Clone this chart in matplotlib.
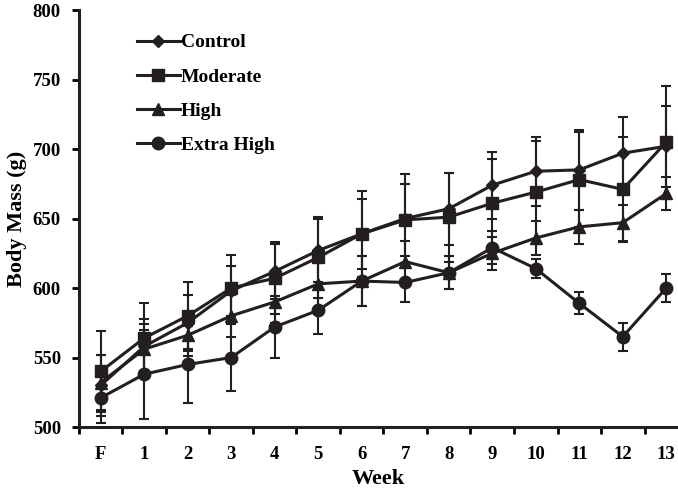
import matplotlib.pyplot as plt
from matplotlib.ticker import FixedLocator

plt.rcParams['font.family'] = 'Liberation Serif'
plt.rcParams['font.weight'] = 'bold'

weeks = ['F', '1', '2', '3', '4', '5', '6', '7', '8', '9', '10', '11', '12', '13']
x = list(range(len(weeks)))

control = [530, 558, 575, 598, 612, 627, 639, 650, 657, 674, 684, 685, 697, 702]
control_err = [22, 20, 20, 18, 20, 23, 25, 32, 26, 24, 25, 29, 26, 29]
moderate = [540, 564, 580, 600, 607, 622, 639, 649, 651, 661, 669, 678, 671, 705]
moderate_err = [29, 25, 24, 24, 26, 29, 31, 26, 32, 32, 37, 34, 38, 40]
high = [532, 556, 566, 580, 590, 603, 605, 619, 611, 625, 636, 644, 647, 668]
high_err = [20, 18, 15, 15, 15, 18, 18, 15, 12, 12, 12, 12, 13, 12]
extra = [521, 538, 545, 550, 572, 584, 605, 604, 611, 629, 614, 589, 565, 600]
extra_err = [18, 32, 28, 24, 22, 17, 18, 14, 12, 12, 7, 8, 10, 10]

fig = plt.figure(figsize=(6.78, 4.91), dpi=100)
ax = fig.add_axes([0.1165, 0.1303, 0.8835, 0.8493])

series = [
    ('Control', control, control_err, 'D', 6),
    ('Moderate', moderate, moderate_err, 's', 8.5),
    ('High', high, high_err, '^', 8),
    ('Extra High', extra, extra_err, 'o', 9),
]

for name, vals, errs, mk, ms in series:
    ax.errorbar(x, vals, yerr=errs, fmt='none', ecolor='#231f20',
                elinewidth=1.5, capsize=3.5, capthick=1.5, zorder=2)
    ax.plot(x, vals, color='#231f20', lw=2.2, marker=mk, ms=ms,
            label=name, zorder=3)

ax.set_xlim(-0.5, 13.27)
ax.set_ylim(500, 800)
ax.set_yticks(range(500, 801, 50))
ax.set_xticks(x)
ax.set_xticklabels(weeks)
ax.xaxis.set_minor_locator(FixedLocator([i + 0.5 for i in range(-1, 14)]))
ax.tick_params(axis='x', which='major', length=0, pad=14, labelsize=13.5)
ax.tick_params(axis='x', which='minor', length=5, width=2, direction='out')
ax.tick_params(axis='y', length=5, width=2, direction='out', labelsize=13.5,
               pad=8)

for s in ['top', 'right']:
    ax.spines[s].set_visible(False)
for s in ['left', 'bottom']:
    ax.spines[s].set_linewidth(2.2)
    ax.spines[s].set_color('#231f20')

ax.set_xlabel('Week', fontsize=16, fontweight='bold', labelpad=4)
ax.set_ylabel('Body Mass (g)', fontsize=16, fontweight='bold', labelpad=4)

ax.legend(loc='upper left', bbox_to_anchor=(0.097, 0.943), frameon=False,
          fontsize=14, handlelength=2.2, handletextpad=0.05,
          labelspacing=0.85, borderpad=0, borderaxespad=0)

fig.savefig('out.png', dpi=100)
